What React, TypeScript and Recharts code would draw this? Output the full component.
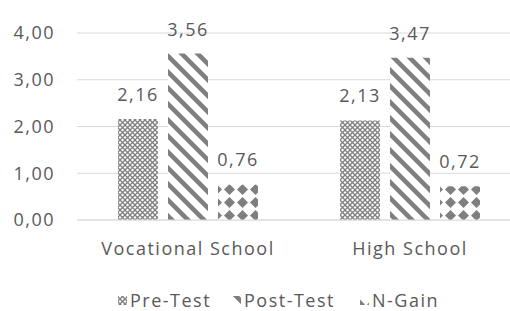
import { Bar, BarChart, CartesianGrid, LabelList, XAxis, YAxis } from "recharts";

const categories = ["Vocational School", "High School"];
const preTest = [2.16, 2.13];
const postTest = [3.56, 3.47];
const nGain = [0.76, 0.72];
const yTicks = [0, 1, 2, 3, 4];

const data = categories.map((name, i) => ({
  name,
  pre: preTest[i],
  post: postTest[i],
  gain: nGain[i],
}));

const TEXT = "#595959";
const GRID = "#d9d9d9";
const INK = "#7f7f7f";
const FONT = "'Open Sans', Lato, sans-serif";
const SPACING = 1.5;

const fmt = (v: number) => v.toFixed(2).replace(".", ",");

function Patterns() {
  return (
    <defs>
      <pattern id="patPre" width="5" height="5" patternUnits="userSpaceOnUse">
        <rect width="5" height="5" fill="#fff" />
        <path d="M0,0 L5,5 M5,0 L0,5" stroke={INK} strokeWidth={1.3} />
      </pattern>
      <pattern id="patPost" width="16" height="16" patternUnits="userSpaceOnUse">
        <rect width="16" height="16" fill="#fff" />
        <path d="M-2,-2 L18,18 M-6,10 L6,22 M10,-6 L22,6" stroke={INK} strokeWidth={4.5} />
      </pattern>
      <pattern id="patGain" width="13" height="13" patternUnits="userSpaceOnUse" x="2" y="1">
        <rect width="13" height="13" fill="#fff" />
        <polygon points="6.5,1 12,6.5 6.5,12 1,6.5" fill={INK} />
      </pattern>
    </defs>
  );
}

const legendItems = [
  { key: "pre", label: "Pre-Test", fill: "url(#patPre)", x: 118 },
  { key: "post", label: "Post-Test", fill: "url(#patPost)", x: 232 },
  { key: "gain", label: "N-Gain", fill: "url(#patGain)", x: 360 },
];

const labelProps = {
  position: "top" as const,
  offset: 18,
  formatter: fmt,
  fill: TEXT,
  fontSize: 18,
  fontFamily: FONT,
  letterSpacing: SPACING,
};

export default function App() {
  return (
    <div
      style={{
        position: "absolute",
        left: 0,
        top: 0,
        width: 510,
        height: 311,
        overflow: "hidden",
        background: "#fff",
        fontFamily: FONT,
      }}
    >
      <BarChart
        width={521}
        height={311}
        data={data}
        margin={{ top: 33, right: 0, left: 0, bottom: 51 }}
        barSize={40}
        barGap={10}
      >
        <Patterns />
        <CartesianGrid stroke={GRID} vertical={false} />
        <XAxis
          dataKey="name"
          axisLine={{ stroke: GRID }}
          tickLine={false}
          height={40}
          tick={{ fill: TEXT, fontSize: 18, fontFamily: FONT, letterSpacing: SPACING }}
          tickMargin={16}
        />
        <YAxis
          domain={[0, 4]}
          ticks={yTicks}
          width={77}
          axisLine={false}
          tickLine={false}
          tickMargin={16}
          tickFormatter={fmt}
          tick={{ fill: TEXT, fontSize: 18, fontFamily: FONT, letterSpacing: SPACING }}
        />
        <Bar dataKey="pre" fill="url(#patPre)" isAnimationActive={false}>
          <LabelList dataKey="pre" {...labelProps} />
        </Bar>
        <Bar dataKey="post" fill="url(#patPost)" isAnimationActive={false}>
          <LabelList dataKey="post" {...labelProps} />
        </Bar>
        <Bar dataKey="gain" fill="url(#patGain)" isAnimationActive={false}>
          <LabelList dataKey="gain" {...labelProps} />
        </Bar>
      </BarChart>
      <svg width={510} height={30} style={{ position: "absolute", left: 0, top: 284 }}>
        {legendItems.map((item) => (
          <g key={item.key}>
            <rect x={item.x} y={12} width={9} height={9} fill={item.fill} />
            <text
              x={item.x + 12}
              y={23}
              fill={TEXT}
              fontSize={18}
              fontFamily={FONT}
              letterSpacing={SPACING}
            >
              {item.label}
            </text>
          </g>
        ))}
      </svg>
    </div>
  );
}
